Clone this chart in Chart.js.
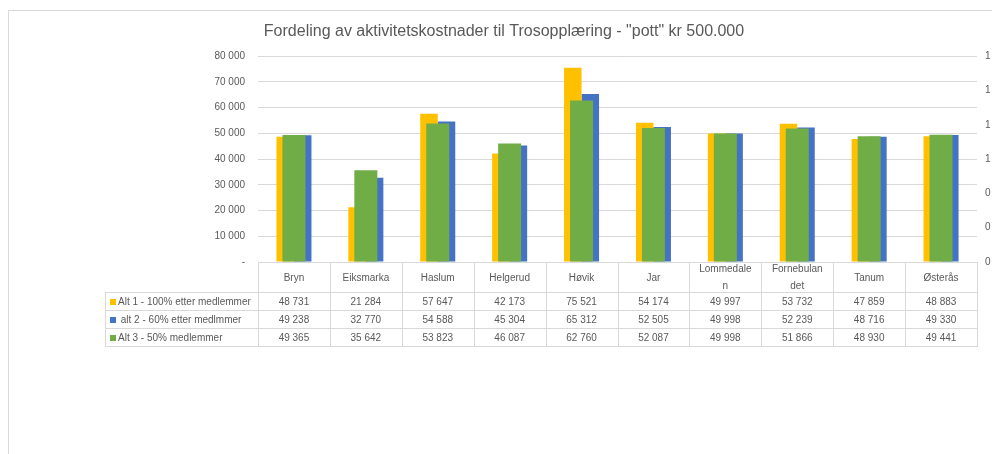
<!DOCTYPE html>
<html><head><meta charset="utf-8">
<script src="https://cdn.jsdelivr.net/npm/chart.js@4"></script>
<style>
html,body{margin:0;padding:0;background:#fff;}
#wrap{position:relative;width:992px;height:454px;overflow:hidden;}
#frame{position:absolute;left:8px;top:10px;right:-2px;bottom:-2px;border-left:1px solid #d9d9d9;border-top:1px solid #d9d9d9;}
canvas{position:absolute;left:0;top:0;}
</style></head><body>
<div id="wrap"><div id="frame"></div><canvas id="c" width="992" height="454"></canvas></div>
<script>
const chartTitle = 'Fordeling av aktivitetskostnader til Trosopplæring - "pott" kr 500.000';
const categories = [["Bryn"],["Eiksmarka"],["Haslum"],["Helgerud"],["Høvik"],["Jar"],["Lommedale","n"],["Fornebulan","det"],["Tanum"],["Østerås"]];
const seriesNames = ["Alt 1 - 100% etter medlemmer"," alt 2 - 60% etter medlmmer","Alt 3 - 50% medlemmer"];
const alt1 = [48731,21284,57647,42173,75521,54174,49997,53732,47859,48883];
const alt2 = [49238,32770,54588,45304,65312,52505,49998,52239,48716,49330];
const alt3 = [49365,35642,53823,46087,62760,52087,49998,51866,48930,49441];
const rightTickLabels = ["0","0","0","1","1","1","1"];
const colors = ["#FFC000","#4472C4","#70AD47"];

const FONT = '"Liberation Sans", Arial, sans-serif';
const TXT = '#595959';
const LINE = '#d9d9d9';

function fmt(n){ return String(n).replace(/\B(?=(\d{3})+(?!\d))/g,' '); }

const tablePlugin = {
  id: 'dataTable',
  afterDraw(chart){
    const ctx = chart.ctx;
    const xs = chart.scales.x;
    const ca = chart.chartArea;
    const y0 = Math.round(chart.scales.y.getPixelForValue(0));
    const rows = [y0, y0+30, y0+48, y0+66, y0+84];
    const n = categories.length;
    const w = (ca.right - ca.left) / n;
    const legL = 105;
    ctx.save();
    ctx.strokeStyle = LINE;
    ctx.lineWidth = 1;
    ctx.beginPath();
    ctx.moveTo(ca.left, rows[0]+0.5); ctx.lineTo(ca.right, rows[0]+0.5);
    for (let r = 1; r < rows.length; r++){
      ctx.moveTo(legL, rows[r]+0.5); ctx.lineTo(ca.right, rows[r]+0.5);
    }
    for (let i = 0; i <= n; i++){
      const x = Math.round(ca.left + i*w) + 0.5;
      ctx.moveTo(x, rows[0]); ctx.lineTo(x, rows[4]+1);
    }
    ctx.moveTo(legL+0.5, rows[1]); ctx.lineTo(legL+0.5, rows[4]+1);
    ctx.stroke();

    ctx.fillStyle = TXT;
    ctx.font = '10px ' + FONT;
    ctx.textAlign = 'center';
    ctx.textBaseline = 'middle';
    const series = [alt1, alt2, alt3];
    for (let i = 0; i < n; i++){
      const cx = xs.getPixelForValue(i);
      const lab = categories[i];
      if (lab.length === 1) {
        ctx.fillText(lab[0], cx, y0 + 16);
      } else {
        ctx.fillText(lab[0], cx, y0 + 7);
        ctx.fillText(lab[1], cx, y0 + 24);
      }
      for (let s = 0; s < 3; s++){
        ctx.fillText(fmt(series[s][i]), cx, (rows[s+1]+rows[s+2])/2 + 1);
      }
    }
    ctx.textAlign = 'left';
    for (let s = 0; s < 3; s++){
      const cy = (rows[s+1]+rows[s+2])/2 + 1;
      ctx.fillStyle = colors[s];
      ctx.fillRect(110, Math.round(cy-3), 6, 6);
      ctx.fillStyle = TXT;
      ctx.fillText(seriesNames[s], 118, cy);
    }
    ctx.restore();
  }
};

new Chart(document.getElementById('c'), {
  type: 'bar',
  data: {
    labels: categories.map(c => c.join('')),
    datasets: [
      { label: seriesNames[0], data: alt1, backgroundColor: colors[0], xAxisID: 'x', categoryPercentage: 0.487, barPercentage: 1, order: 1, borderWidth: 0 },
      { label: seriesNames[1], data: alt2, backgroundColor: colors[1], xAxisID: 'x', categoryPercentage: 0.487, barPercentage: 1, order: 1, borderWidth: 0 },
      { label: seriesNames[2], data: alt3, backgroundColor: colors[2], xAxisID: 'x', grouped: false, categoryPercentage: 1, barPercentage: 0.32, order: 0, borderWidth: 0 }
    ]
  },
  options: {
    responsive: false,
    animation: false,
    layout: { padding: { top: 0, left: 16, right: 0, bottom: 192 } },
    plugins: {
      legend: { display: false },
      tooltip: { enabled: false },
      title: {
        display: true,
        text: chartTitle,
        color: TXT,
        font: { family: FONT, size: 16, weight: 'normal' },
        padding: { top: 22, bottom: 15 }
      }
    },
    scales: {
      x: { type: 'category', display: false, offset: true },
      y: {
        position: 'left',
        min: 0, max: 80000,
        ticks: { stepSize: 10000, padding: 13, color: TXT, font: { family: FONT, size: 10 },
          callback: v => v === 0 ? '-' : fmt(v) },
        grid: { color: LINE, drawTicks: false },
        border: { display: false },
        afterFit(s){ s.width = 242; }
      },
      y2: {
        position: 'right',
        min: 0, max: 6,
        ticks: { stepSize: 1, padding: 8, color: TXT, font: { family: FONT, size: 10 },
          callback: v => rightTickLabels[v] },
        grid: { display: false, drawTicks: false },
        border: { display: false },
        afterFit(s){ s.width = 15; }
      }
    }
  },
  plugins: [tablePlugin]
});
</script>
</body></html>
